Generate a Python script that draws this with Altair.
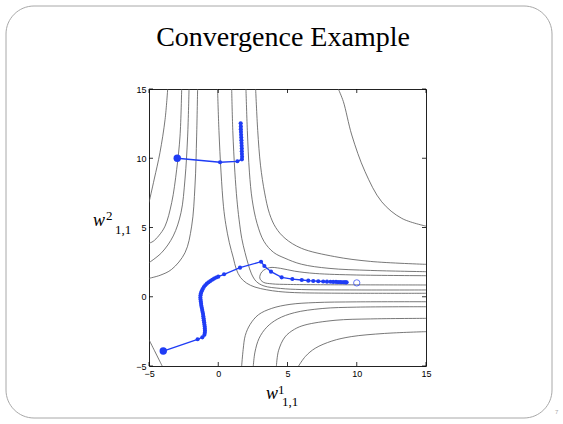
import altair as alt
import pandas as pd

# ---------------- data ----------------
tick_values = [-5, 0, 5, 10, 15]

# contour lines (w1_11, w2_11)
contour_L1 = [(-3.65, 15), (-3.84, 12.8), (-4.21, 10.4), (-4.62, 8.5), (-5.0, 6.8)]
contour_L2 = [(-2.64, 15), (-2.76, 11.6), (-3.0, 9.2), (-3.36, 6.8), (-3.84, 5.1), (-4.3, 4.4), (-4.7, 4.0), (-5.0, 3.86)]
contour_L3 = [(-2.11, 15), (-2.21, 11.6), (-2.4, 8.5), (-2.69, 6.07), (-3.25, 4.39), (-4.09, 3.18), (-5.0, 2.46)]
contour_L4 = [(-1.49, 15), (-1.56, 11.6), (-1.68, 8.0), (-1.92, 5.1), (-2.4, 3.18), (-3.36, 1.98), (-4.2, 1.55), (-5.0, 1.33)]
contour_M1 = [(-0.05, 15), (0.05, 12), (0.2, 9), (0.38, 6.5), (0.55, 5.2), (0.8, 3.9), (1.09, 2.8), (1.3, 2.0),
              (1.6, 1.4), (2.05, 0.98), (2.65, 0.7), (3.5, 0.5), (4.34, 0.38), (5.5, 0.3), (8, 0.26), (15, 0.25)]
contour_M2 = [(0.97, 15), (1.05, 12), (1.2, 9), (1.35, 7), (1.5, 5.6), (1.7, 4.2), (1.93, 3.2), (2.15, 2.4),
              (2.4, 1.65), (2.75, 1.1), (3.3, 0.78), (4.5, 0.6), (6, 0.52), (10, 0.49), (15, 0.49)]
contour_H = [(15, 1.52), (10, 1.57), (7, 1.68), (5.5, 1.85), (4.5, 2.05), (3.7, 2.1), (3.15, 1.8), (3.0, 1.35),
             (3.25, 1.05), (3.9, 0.93), (5, 0.89), (7, 0.87), (15, 0.85)]
contour_U2 = [(2.0, 15), (2.1, 12), (2.25, 9), (2.45, 7), (2.8, 5.3), (3.3, 4.0), (4.0, 3.2), (4.82, 2.78),
              (6, 2.35), (8, 2.05), (11, 1.9), (15, 1.81)]
contour_U1 = [(2.7, 15), (2.85, 12), (3.05, 9.5), (3.35, 7.5), (3.7, 6), (4.15, 5.0), (4.82, 4.22), (6.0, 3.5),
              (8.4, 2.9), (11, 2.55), (15, 2.34)]
contour_F = [(8.67, 15), (9.03, 14.1), (9.64, 11.68), (10.6, 9.03), (11.8, 6.86), (13.25, 5.66), (15, 5.1)]
contour_R1 = [(1.69, -5), (1.8, -3.8), (1.95, -2.8), (2.3, -2.0), (2.9, -1.3), (3.86, -0.84), (5.18, -0.55),
              (7, -0.42), (10, -0.37), (15, -0.36)]
contour_R2 = [(2.53, -5), (2.65, -4.0), (2.95, -3.0), (3.5, -2.2), (4.3, -1.6), (5.5, -1.15), (7.5, -0.85),
              (10, -0.75), (15, -0.72)]
contour_R4 = [(4.2, -5), (4.35, -3.9), (4.82, -2.9), (5.5, -2.35), (6.26, -2.04), (8.43, -1.7), (11, -1.6), (15, -1.56)]
contour_R5 = [(5.8, -5), (6.3, -4.3), (7.0, -3.72), (8.2, -3.2), (9.6, -2.88), (12, -2.65), (15, -2.52)]
contour_LL = [(-5, -3.1), (-4.6, -3.9), (-4.3, -4.5), (-4.05, -5)]

# trajectories
traj1 = [(-2.96, 10.0), (0.13, 9.71), (1.38, 9.78), (1.71, 9.92), (1.72, 10.1), (1.71, 10.3), (1.7, 10.5),
         (1.7, 10.7), (1.69, 10.9), (1.68, 11.1), (1.67, 11.3), (1.66, 11.5), (1.65, 11.7), (1.64, 11.9),
         (1.63, 12.1), (1.63, 12.3), (1.62, 12.52)]
traj2 = [(-3.97, -3.92), (-1.49, -3.07), (-1.15, -2.93), (-1.0, -2.75), (-0.97, -2.6), (-0.96, -2.45),
         (-0.97, -2.3), (-0.98, -2.15), (-1.0, -2.0), (-1.02, -1.85), (-1.04, -1.7), (-1.06, -1.55),
         (-1.08, -1.4), (-1.1, -1.25), (-1.13, -1.1), (-1.16, -0.95), (-1.19, -0.8), (-1.22, -0.65),
         (-1.24, -0.5), (-1.26, -0.35), (-1.28, -0.2), (-1.29, -0.05), (-1.28, 0.1), (-1.25, 0.25),
         (-1.2, 0.4), (-1.13, 0.55), (-1.04, 0.7), (-0.94, 0.83), (-0.82, 0.95), (-0.7, 1.05), (-0.57, 1.14),
         (-0.44, 1.23), (-0.3, 1.31), (-0.15, 1.39), (0.0, 1.45), (0.42, 1.62), (1.57, 2.1), (3.09, 2.53),
         (3.33, 2.22), (3.81, 1.81), (4.58, 1.4), (5.35, 1.28), (6.03, 1.21), (6.5, 1.16), (6.86, 1.14),
         (7.22, 1.12), (7.58, 1.1), (7.85, 1.09), (8.1, 1.08), (8.3, 1.07), (8.5, 1.07), (8.65, 1.06),
         (8.8, 1.06), (8.92, 1.05), (9.03, 1.05), (9.12, 1.05), (9.2, 1.04), (9.27, 1.04)]
start_points = [(-2.96, 10.0), (-3.97, -3.92)]
optimum = [(10.0, 1.0)]

# ---------------- tables ----------------
named_contours = [("L1", contour_L1), ("L2", contour_L2), ("L3", contour_L3), ("L4", contour_L4),
                  ("M1", contour_M1), ("M2", contour_M2), ("H", contour_H), ("U2", contour_U2),
                  ("U1", contour_U1), ("F", contour_F), ("R1", contour_R1), ("R2", contour_R2),
                  ("R4", contour_R4), ("R5", contour_R5), ("LL", contour_LL)]
rows = []
for name, pts in named_contours:
    for i, (x, y) in enumerate(pts):
        rows.append({"line": name, "i": i, "x": x, "y": y})
cdf = pd.DataFrame(rows)

trows = []
for name, pts in [("t1", traj1), ("t2", traj2)]:
    for i, (x, y) in enumerate(pts):
        trows.append({"traj": name, "i": i, "x": x, "y": y})
tdf = pd.DataFrame(trows)
sdf = pd.DataFrame(start_points, columns=["x", "y"])
odf = pd.DataFrame(optimum, columns=["x", "y"])
tickdf = pd.DataFrame({"t": tick_values})

W = 277
H = 277
BLUE = "#1f3cf5"
xs = alt.Scale(domain=[-5, 15], nice=False, zero=False)
ys = alt.Scale(domain=[-5, 15], nice=False, zero=False)

axis_common = dict(values=tick_values, ticks=False, domain=False, grid=False, title=None, labelFlush=False,
                   labelFont="Liberation Sans", labelFontSize=9, labelColor="black", labelPadding=3)

contours = alt.Chart(cdf).mark_line(color="#555555", strokeWidth=0.8, interpolate="catmull-rom", clip=True).encode(
    x=alt.X("x:Q", scale=xs, axis=alt.Axis(**axis_common)),
    y=alt.Y("y:Q", scale=ys, axis=alt.Axis(**axis_common)),
    detail="line:N",
    order="i:Q",
)

paths = alt.Chart(tdf).mark_line(color=BLUE, strokeWidth=1.3).encode(
    x=alt.X("x:Q", scale=xs), y=alt.Y("y:Q", scale=ys), detail="traj:N", order="i:Q")
dots = alt.Chart(tdf).mark_circle(color=BLUE, size=17, opacity=1).encode(
    x=alt.X("x:Q", scale=xs), y=alt.Y("y:Q", scale=ys))
starts = alt.Chart(sdf).mark_circle(color=BLUE, size=55, opacity=1).encode(
    x=alt.X("x:Q", scale=xs), y=alt.Y("y:Q", scale=ys))
opt = alt.Chart(odf).mark_point(shape="circle", color=BLUE, size=40, strokeWidth=1, filled=False).encode(
    x=alt.X("x:Q", scale=xs), y=alt.Y("y:Q", scale=ys))

tick_b = alt.Chart(tickdf).mark_rule(color="black", strokeWidth=0.8).encode(
    x=alt.X("t:Q", scale=xs), y=alt.value(H), y2=alt.value(H - 4))
tick_t = alt.Chart(tickdf).mark_rule(color="black", strokeWidth=0.8).encode(
    x=alt.X("t:Q", scale=xs), y=alt.value(0), y2=alt.value(4))
tick_l = alt.Chart(tickdf).mark_rule(color="black", strokeWidth=0.8).encode(
    y=alt.Y("t:Q", scale=ys), x=alt.value(0), x2=alt.value(4))
tick_r = alt.Chart(tickdf).mark_rule(color="black", strokeWidth=0.8).encode(
    y=alt.Y("t:Q", scale=ys), x=alt.value(W), x2=alt.value(W - 4))

one = pd.DataFrame({"a": [0]})

def txt(s, x, y, size, italic=False, color="black", align="left", font="Liberation Serif"):
    kw = dict(fontSize=size, font=font, color=color, align=align, baseline="alphabetic")
    if italic:
        kw["fontStyle"] = "italic"
    return alt.Chart(one).mark_text(**kw).encode(x=alt.value(x), y=alt.value(y), text=alt.value(s))

title = txt("Convergence Example", 134, -43, 28, align="center")
yl_w = txt("w", -56, 137, 18, italic=True)
yl_sup = txt("2", -43, 131, 13)
yl_sub = txt("1,1", -34, 145, 13)
xl_w = txt("w", 117, 310, 18, italic=True)
xl_sup = txt("1", 129, 305, 13)
xl_sub = txt("1,1", 133, 317, 13)
page = txt("7", 406, 325, 6, color="#aaaaaa", font="Liberation Sans")

frame = alt.Chart(one).mark_rect(filled=False, stroke="#a8a8a8", strokeWidth=1, cornerRadius=28).encode(
    x=alt.value(-143), x2=alt.value(403), y=alt.value(-83), y2=alt.value(329))

chart = alt.layer(
    contours, paths, dots, starts, opt, tick_b, tick_t, tick_l, tick_r,
    frame, title, yl_w, yl_sup, yl_sub, xl_w, xl_sup, xl_sub, page
).properties(
    width=W, height=H,
    padding={"left": 149, "top": 89, "right": 137, "bottom": 58},
    autosize=alt.AutoSizeParams(type="none"),
    background="white",
).configure_view(stroke="#222222", strokeWidth=1)

chart.save("out.html", embed_options={"renderer": "svg", "actions": False})
